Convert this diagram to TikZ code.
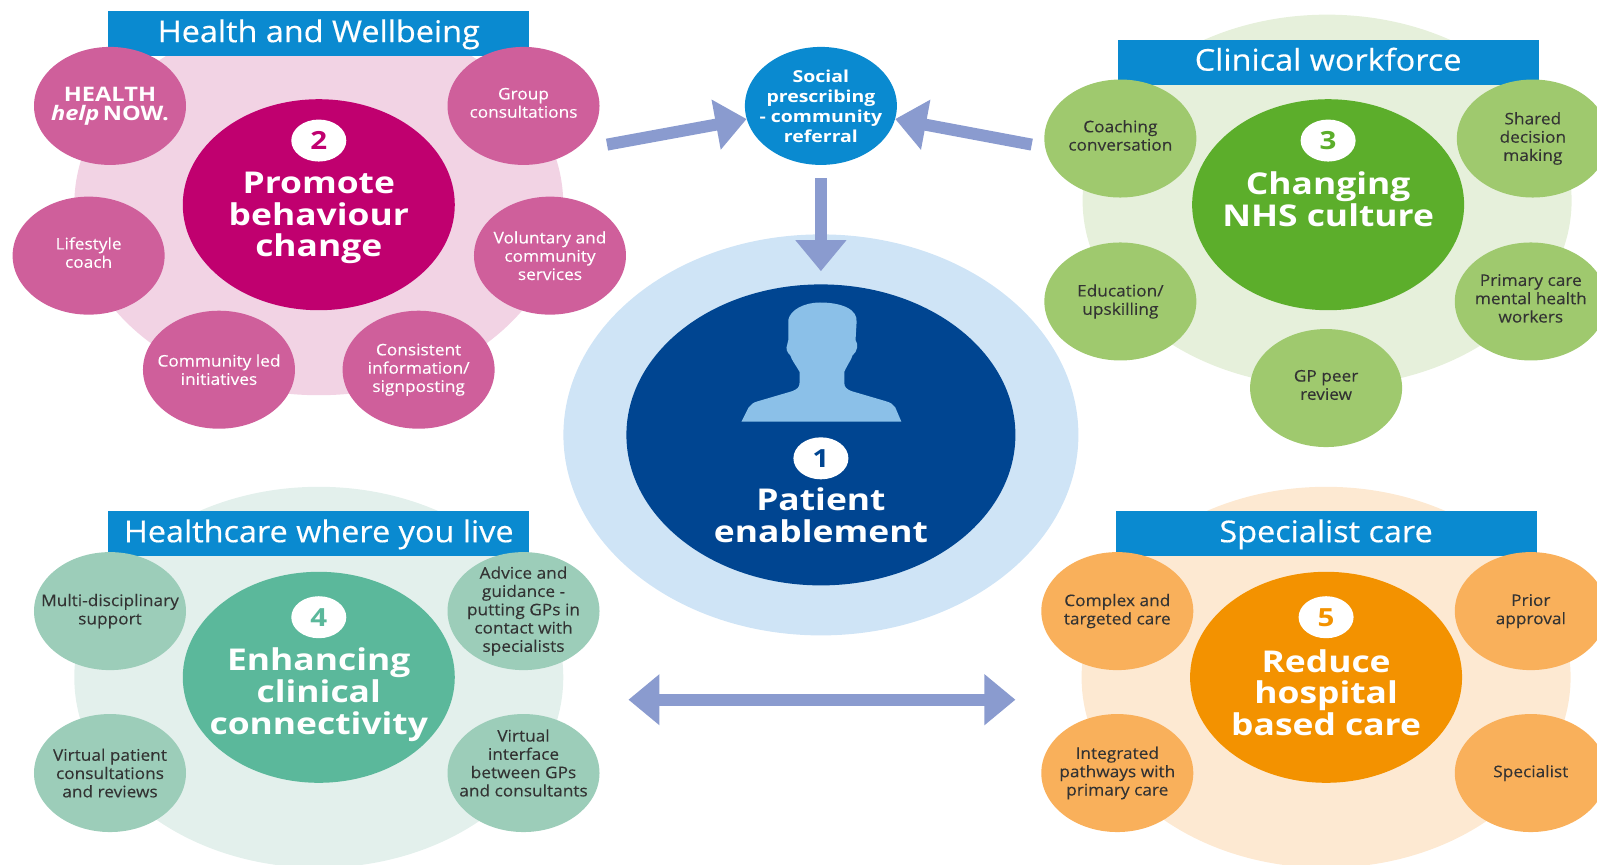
\documentclass[tikz,border=0pt]{standalone}
\usepackage{fontspec}
\setmainfont[FakeStretch=1.08,FakeBold=0.15]{Open Sans}
\newfontfamily\titlefont[FakeStretch=1.18]{Open Sans}
\newfontfamily\bannerfont[FakeStretch=1.08,FakeBold=0.4]{Open Sans}
\usetikzlibrary{shapes.geometric,arrows.meta}
\definecolor{hwback}{HTML}{F2D3E4}
\definecolor{hwsat}{HTML}{CF5F9B}
\definecolor{hwbig}{HTML}{C0006F}
\definecolor{wfback}{HTML}{E6F0DB}
\definecolor{wfsat}{HTML}{9FC96E}
\definecolor{wfbig}{HTML}{5CAE2B}
\definecolor{ccback}{HTML}{E3F0EC}
\definecolor{ccsat}{HTML}{9CCDB9}
\definecolor{ccbig}{HTML}{5BB89B}
\definecolor{scback}{HTML}{FDE9D2}
\definecolor{scsat}{HTML}{F9B05B}
\definecolor{scbig}{HTML}{F39200}
\definecolor{bannerblue}{HTML}{0A8AD0}
\definecolor{patback}{HTML}{CFE4F6}
\definecolor{patbig}{HTML}{004591}
\definecolor{patperson}{HTML}{8BC0E8}
\definecolor{flowblue}{HTML}{8A9BCF}
\definecolor{darktext}{HTML}{333333}
\newcommand{\nudgeup}[1]{\\[#1]\mbox{}}
\begin{document}
\begin{tikzpicture}
	[
	x=1.0185pt, y=-1.0185pt,
	align=center,
	blob/.style={ellipse, inner sep=-20pt, minimum width=152pt, minimum height=118pt, font=\fontsize{16}{18.3}\selectfont},
	back/.style={ellipse, minimum width=489pt, minimum height=381pt, fill=#1},
	big/.style={ellipse, minimum width=272pt, minimum height=211pt, fill=#1},
	sat/.style={blob, fill=#1, text=darktext},
	badge/.style={ellipse, minimum width=55pt, minimum height=42pt, inner sep=0pt, fill=white, font=\fontsize{25}{25}\titlefont\bfseries},
	title/.style={text=white, font=\fontsize{30}{31.8}\titlefont\bfseries},
	banner/.style={fill=bannerblue, text=white, inner sep=0pt, minimum width=421pt, minimum height=45pt, text height=20pt, text depth=3pt, font=\fontsize{30}{30}\bannerfont},
	flow/.style={draw=flowblue, line width=12pt, -{Triangle[length=31pt,width=49pt]}},
	]
		\useasboundingbox (0,0) rectangle (1568,849);
		
		% health and wellbeing
		\node[back=hwback] (hwarea) at 		( 313, 201 ) {};
		\node[banner] (hwhead) at 		( 313,  33 ) {Health and Wellbeing};
		\node[sat=hwsat, text=white] (hhn) at 		( 108, 104 ) {\fontsize{20}{18}\titlefont\bfseries HEALTH\\[1pt]\fontsize{20}{18}\titlefont\bfseries\itshape help\,\upshape NOW.};
		\node[sat=hwsat, text=white] (group) at 		( 514, 104 ) {Group\\consultations\nudgeup{-12pt}};
		\node[sat=hwsat, text=white] (coach) at 		(  87, 251 ) {Lifestyle\\coach\nudgeup{-12pt}};
		\node[sat=hwsat, text=white] (vol) at 		( 540, 251 ) {\mbox{}\\[-6pt]Voluntary and\\community\\services};
		\node[sat=hwsat, text=white] (led) at 		( 215, 363 ) {Community led\\initiatives};
		\node[sat=hwsat, text=white] (info) at 		( 411, 363 ) {Consistent\\information/\\signposting};
		\node[big=hwbig] (promote) at 		( 313, 201 ) {};
		\node[badge, text=hwbig] (promoten) at 		( 313, 138 ) {2};
		\node[title] (promotet) at 		( 313, 214 ) {Promote\\behaviour\\change};
		
		% clinical workforce
		\node[back=wfback, minimum height=372pt] (wfarea) at 		(1303, 197 ) {};
		\node[banner] (wfhead) at 		(1304,  61 ) {Clinical workforce};
		\node[sat=wfsat] (coaching) at 		(1100, 136 ) {Coaching\\conversation\nudgeup{-12pt}};
		\node[sat=wfsat] (shared) at 		(1505, 136 ) {Shared\\decision\\making};
		\node[sat=wfsat] (educ) at 		(1100, 296 ) {Education/\\upskilling};
		\node[sat=wfsat] (mental) at 		(1503, 296 ) {Primary care\\mental health\\workers\nudgeup{-12pt}};
		\node[sat=wfsat] (peer) at 		(1302, 381 ) {GP peer\\review\nudgeup{-12pt}};
		\node[big=wfbig] (culture) at 		(1304, 201 ) {};
		\node[badge, text=wfbig] (culturen) at 		(1304, 138 ) {3};
		\node[title] (culturet) at 		(1304, 196 ) {Changing\\NHS culture};
		
		% healthcare where you live
		\node[back=ccback] (ccarea) at 		( 313, 665 ) {};
		\node[banner] (cchead) at 		( 313, 524 ) {Healthcare where you live};
		\node[sat=ccsat] (multi) at 		( 108, 600 ) {Multi-disciplinary\\support};
		\node[sat=ccsat] (advice) at 		( 514, 600 ) {Advice and\\guidance -\\putting GPs in\\contact with\\specialists};
		\node[sat=ccsat] (virtpat) at 		( 108, 759 ) {Virtual patient\\consultations\\and reviews};
		\node[sat=ccsat] (virtif) at 		( 514, 759 ) {Virtual\\interface\\between GPs\\and consultants\nudgeup{2pt}};
		\node[big=ccbig] (connect) at 		( 313, 665 ) {};
		\node[badge, text=ccbig] (connectn) at 		( 313, 606 ) {4};
		\node[title] (connectt) at 		( 313, 682 ) {Enhancing\\clinical\\connectivity};
		
		% specialist care
		\node[back=scback] (scarea) at 		(1302, 665 ) {};
		\node[banner] (schead) at 		(1302, 524 ) {Specialist care};
		\node[sat=scsat] (complex) at 		(1097, 600 ) {Complex and\\targeted care};
		\node[sat=scsat] (prior) at 		(1503, 600 ) {Prior\\approval};
		\node[sat=scsat] (integ) at 		(1097, 759 ) {Integrated\\pathways with\\primary care};
		\node[sat=scsat] (spec) at 		(1503, 759 ) {Specialist};
		\node[big=scbig] (reduce) at 		(1302, 665 ) {};
		\node[badge, text=scbig] (reducen) at 		(1302, 606 ) {5};
		\node[title] (reducet) at 		(1302, 680 ) {Reduce\\hospital\\based care};
		
		% patient
		\node[ellipse, minimum width=515pt, minimum height=401pt, fill=patback] (patarea) at 		( 806, 427 ) {};
		\node[ellipse, minimum width=389pt, minimum height=301pt, fill=patbig] (patient) at 		( 806, 427 ) {};
		\fill[patperson] (728,414) -- (735,400) .. controls (737,397) and (740,395) .. (744,394)
			-- (778,384) .. controls (783,382) and (785,380) .. (785,376) -- (785,365)
			.. controls (781,358) and (777,353) .. (776,349)
			.. controls (773,346) and (771,343) .. (773,338) -- (774,334) -- (774,314)
			.. controls (776,304) and (790,297) .. (805,297)
			.. controls (825,297) and (843,303) .. (841,317) -- (840,334)
			.. controls (843,338) and (842,345) .. (837,349)
			.. controls (836,353) and (832,358) .. (829,365) -- (829,376)
			.. controls (829,380) and (831,382) .. (836,384) -- (870,394)
			.. controls (874,395) and (877,397) .. (879,400) -- (885,414) -- cycle;
		\node[badge, text=patbig] (patientn) at 		( 806, 450 ) {1};
		\node[title] (patientt) at 		( 806, 506 ) {Patient\\enablement};
		
		% social prescribing
		\node[blob, fill=bannerblue, text=white, font=\fontsize{16.5}{20}\titlefont\bfseries] (social) at 		( 806, 104 ) {Social\\prescribing\\- community\\referral};
		
		% flows
		\coordinate (hwout) at 		( 596, 142 );
		\coordinate (wfout) at 		(1013, 142 );
		\coordinate (midl) at 		( 617, 687 );
		\coordinate (midr) at 		( 997, 687 );
		
		\foreach \from/\to in {hwout/social.190,wfout/social.350} \draw[flow] (\from) -- (\to);
		\draw[flow, shorten <=13pt, shorten >=13pt] (social) -- (patient);
		\draw[flow, {Triangle[length=31pt,width=49pt]}-{Triangle[length=31pt,width=49pt]}] (midl) -- (midr);
		
	\end{tikzpicture}
\end{document}
